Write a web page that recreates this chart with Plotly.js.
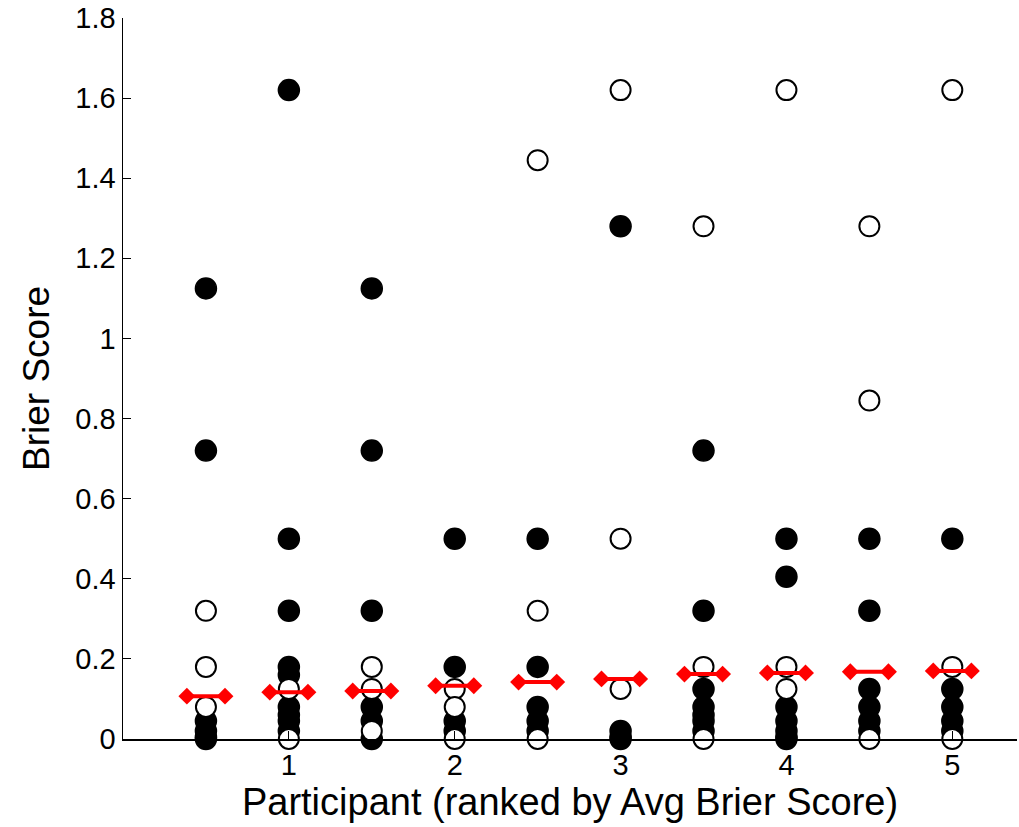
<!DOCTYPE html>
<html>
<head>
<meta charset="utf-8">
<script src="https://cdn.plot.ly/plotly-3.0.1.min.js"></script>
<style>html,body{margin:0;padding:0;background:#fff;}#chart{width:1019px;height:827px;}</style>
</head>
<body>
<div id="chart"></div>
<script>
// Column positions (participants, two columns per rank step)
const positions = [0.5, 1, 1.5, 2, 2.5, 3, 3.5, 4, 4.5, 5];

// Filled-circle Brier scores for each column
const filledScores = [
  [1.125, 0.72, 0.045, 0.02, 0.005, 0],
  [1.62, 0.5, 0.32, 0.18, 0.16, 0.08, 0.06, 0.045, 0.02],
  [1.125, 0.72, 0.32, 0.08, 0.045, 0],
  [0.5, 0.18, 0.045, 0.02],
  [0.5, 0.18, 0.08, 0.045, 0.02],
  [1.28, 0.02, 0.005, 0],
  [0.72, 0.32, 0.125, 0.08, 0.06, 0.045, 0.02],
  [0.5, 0.405, 0.08, 0.045, 0.02, 0.005, 0],
  [0.5, 0.32, 0.125, 0.08, 0.045, 0.02],
  [0.5, 0.125, 0.08, 0.045, 0.02]
];

// Open-circle Brier scores for each column
const openScores = [
  [0.32, 0.18, 0.08],
  [0.125, 0],
  [0.18, 0.125, 0.02],
  [0.125, 0.08, 0],
  [1.445, 0.32, 0],
  [1.62, 0.5, 0.125],
  [1.28, 0.18, 0],
  [1.62, 0.18, 0.125],
  [1.28, 0.845, 0],
  [1.62, 0.18, 0]
];

// Average Brier score per column (red bars)
const avgScores = [0.107, 0.117, 0.12, 0.133, 0.142, 0.15, 0.162, 0.165, 0.168, 0.17];

const halfWidth = 0.115;

const fx = [], fy = [], ox = [], oy = [];
positions.forEach((p, i) => {
  filledScores[i].forEach(v => { fx.push(p); fy.push(v); });
  openScores[i].forEach(v => { ox.push(p); oy.push(v); });
});

const traces = [
  {x: fx, y: fy, type: 'scatter', mode: 'markers', cliponaxis: false,
   marker: {symbol: 'circle', size: 21, color: '#000', line: {color: '#000', width: 1.5}}, hoverinfo: 'skip'},
  {x: ox, y: oy, type: 'scatter', mode: 'markers', cliponaxis: false,
   marker: {symbol: 'circle', size: 20, color: '#fff', line: {color: '#000', width: 2}}, hoverinfo: 'skip'}
];
positions.forEach((p, i) => {
  traces.push({x: [p - halfWidth, p + halfWidth], y: [avgScores[i], avgScores[i]],
    type: 'scatter', mode: 'lines+markers', cliponaxis: false,
    line: {color: '#ff0000', width: 4},
    marker: {symbol: 'diamond', size: 13, color: '#ff0000'}, hoverinfo: 'skip'});
});

const layout = {
  width: 1019, height: 827,
  margin: {l: 123, r: 2, t: 18, b: 88},
  paper_bgcolor: '#fff', plot_bgcolor: '#fff',
  showlegend: false,
  font: {family: 'Liberation Sans, Arial, sans-serif', color: '#000'},
  xaxis: {
    range: [0, 5.39], tickvals: [1, 2, 3, 4, 5], ticktext: ['1', '2', '3', '4', '5'],
    showgrid: false, zeroline: false, showline: true, linecolor: '#000', linewidth: 1.5,
    ticks: 'inside', ticklen: 8, tickcolor: '#000',
    tickfont: {size: 29},
    title: {text: 'Participant (ranked by Avg Brier Score)', font: {size: 38}, standoff: 0}
  },
  yaxis: {
    range: [0, 1.8], tickvals: [0, 0.2, 0.4, 0.6, 0.8, 1, 1.2, 1.4, 1.6, 1.8],
    ticktext: ['0', '0.2', '0.4', '0.6', '0.8', '1', '1.2', '1.4', '1.6', '1.8'],
    showgrid: false, zeroline: false, showline: true, linecolor: '#000', linewidth: 1.5,
    ticks: 'inside', ticklen: 8, tickcolor: '#000',
    tickfont: {size: 29},
    title: {text: 'Brier Score', font: {size: 37}, standoff: 14}
  }
};

Plotly.newPlot('chart', traces, layout, {displayModeBar: false, staticPlot: true});
</script>
</body>
</html>
